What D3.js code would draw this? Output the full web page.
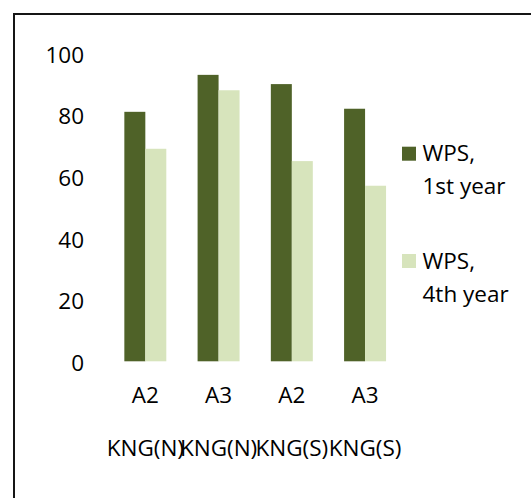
<!DOCTYPE html>
<html>
<head>
<meta charset="utf-8">
<script src="https://cdn.jsdelivr.net/npm/d3@7"></script>
<style>
  html, body { margin: 0; padding: 0; background: #fff; }
  svg { display: block; }
  text { font-family: "Open Sans", "Noto Sans", sans-serif; fill: #000; }
</style>
</head>
<body>
<svg id="chart" width="531" height="498"></svg>
<script>
// Category labels (two-line x labels)
const seasons = ["A2", "A3", "A2", "A3"];
const regions = ["KNG(N)", "KNG(N)", "KNG(S)", "KNG(S)"];

// Series
const seriesNames = ["WPS, 1st year", "WPS, 4th year"];
const legendLines = [["WPS,", "1st year"], ["WPS,", "4th year"]];
const firstYear = [81, 93, 90, 82];
const fourthYear = [69, 88, 65, 57];
const seriesColors = ["#4f6228", "#d7e4bc"];

// Axis ticks
const yTicks = [0, 20, 40, 60, 80, 100];

const svg = d3.select("#chart");
const fontSize = 22.5;

// Outer frame (open on the right and bottom, as clipped by the window)
svg.append("path")
  .attr("d", "M14,520 L14,14 L540,14")
  .attr("fill", "none")
  .attr("stroke", "#151515")
  .attr("stroke-width", 2);

const plot = { left: 108.7, right: 401.7, top: 53.3, bottom: 361.3 };

const idx = d3.range(seasons.length);
const x0 = d3.scaleBand().domain(idx).range([plot.left, plot.right]).paddingInner(0.427).paddingOuter(0.2135);
const x1 = d3.scaleBand().domain([0, 1]).range([0, x0.bandwidth()]);
const y = d3.scaleLinear().domain([0, 100]).range([plot.bottom, plot.top]);

const series = [firstYear, fourthYear];

// Bars
const groups = svg.append("g").selectAll("g")
  .data(idx)
  .join("g")
  .attr("transform", i => `translate(${x0(i)},0)`);

groups.selectAll("rect")
  .data(i => series.map((s, k) => ({ k, v: s[i] })))
  .join("rect")
  .attr("x", d => x1(d.k))
  .attr("width", x1.bandwidth())
  .attr("y", d => y(d.v))
  .attr("height", d => y(0) - y(d.v))
  .attr("fill", d => seriesColors[d.k]);

// Y axis (labels only)
const yAxis = svg.append("g")
  .attr("transform", `translate(${plot.left},0)`)
  .call(d3.axisLeft(y).tickValues(yTicks).tickSize(0).tickPadding(24.7));
yAxis.select(".domain").remove();
yAxis.selectAll("text")
  .attr("dy", "0.4em")
  .style("font-size", fontSize + "px")
  .style("font-family", "'Open Sans', sans-serif")
  .attr("fill", "#000");

// X axis, first line
const xAxis = svg.append("g")
  .attr("transform", `translate(0,${plot.bottom})`)
  .call(d3.axisBottom(x0).tickFormat(i => seasons[i]).tickSize(0).tickPadding(0));
xAxis.select(".domain").remove();
xAxis.selectAll("text")
  .attr("y", 42)
  .attr("dy", 0)
  .style("font-size", fontSize + "px")
  .style("font-family", "'Open Sans', sans-serif")
  .attr("fill", "#000");

// X axis, second line
const xAxis2 = svg.append("g")
  .attr("transform", `translate(0,${plot.bottom})`)
  .call(d3.axisBottom(x0).tickFormat(i => regions[i]).tickSize(0).tickPadding(0));
xAxis2.select(".domain").remove();
xAxis2.selectAll("text")
  .attr("y", 94.5)
  .attr("dy", 0)
  .style("font-size", fontSize + "px")
  .style("font-family", "'Open Sans', sans-serif")
  .attr("fill", "#000");

// Legend
const legend = svg.append("g").selectAll("g")
  .data(seriesNames)
  .join("g")
  .attr("transform", (d, k) => `translate(402,${146.7 + k * 107.3})`);

legend.append("rect")
  .attr("width", 14)
  .attr("height", 14)
  .attr("fill", (d, k) => seriesColors[k]);

legend.append("text")
  .style("font-size", fontSize + "px")
  .selectAll("tspan")
  .data((d, k) => legendLines[k])
  .join("tspan")
  .attr("x", 20.5)
  .attr("y", (d, j) => 14.5 + j * 33)
  .text(d => d);
</script>
</body>
</html>
